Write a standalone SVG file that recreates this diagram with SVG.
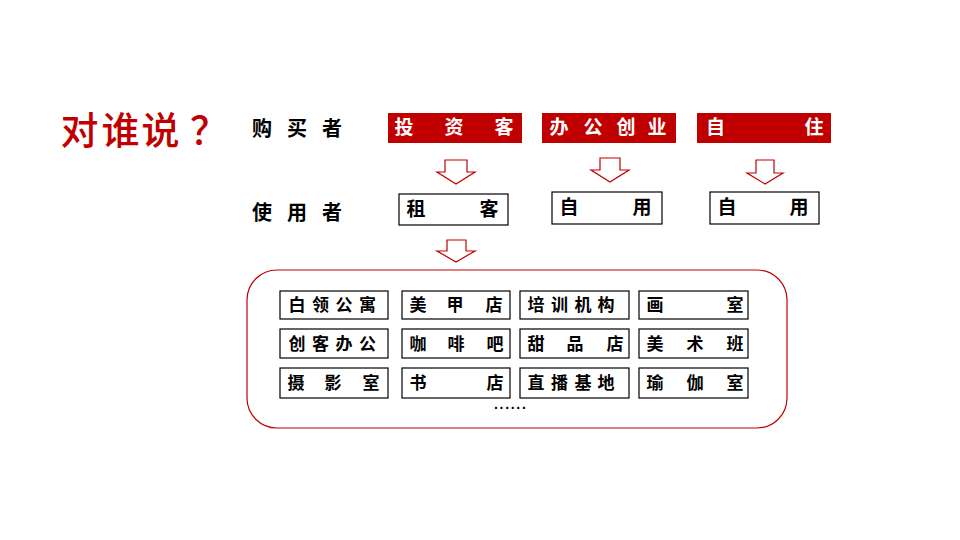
<svg xmlns="http://www.w3.org/2000/svg" width="960" height="540" viewBox="0 0 960 540">
<style>
.cjk{font-family:"Noto Sans CJK SC","Noto Sans",sans-serif}
.title{font-size:38px;fill:#C00000;font-weight:500}
.lbl{font-size:20px;font-weight:700;fill:#000}
.rbox{fill:#C00000}
.rtxt{font-size:19px;font-weight:700;fill:#fff}
.wbox{fill:#fff;stroke:#000;stroke-width:1.2}
.wtxt{font-size:19px;font-weight:700;fill:#000}
.ibox{fill:#fff;stroke:#000;stroke-width:1.2}
.itxt{font-size:17px;font-weight:700;fill:#000}
.arrow{fill:#fff;stroke:#C00000;stroke-width:1.2;stroke-linejoin:miter}
.frame{fill:none;stroke:#C00000;stroke-width:1.2}
</style>
<rect width="960" height="540" fill="#fff"/>
<g id="title"><text class="cjk title" x="60.5 101.5 141.5 190" y="144">对谁说？</text></g>
<g id="row-labels">
<text class="cjk lbl" x="252 287 322" y="136">购买者</text>
<text class="cjk lbl" x="252 287 322" y="220">使用者</text>
</g>
<g id="buyer-investor"><rect class="rbox" x="388" y="113" width="134" height="30"/><text class="cjk rtxt" x="394.5 444.5 494.5" y="134">投资客</text></g>
<g id="buyer-office"><rect class="rbox" x="542" y="113" width="134" height="30"/><text class="cjk rtxt" x="549.5 583.5 616.5 647.5" y="134">办公创业</text></g>
<g id="buyer-self"><rect class="rbox" x="697" y="113" width="134" height="30"/><text class="cjk rtxt" x="706 804.5" y="134">自住</text></g>
<g id="user-tenant"><rect class="wbox" x="399" y="194" width="109" height="31"/><text class="cjk wtxt" x="406.5 479.5" y="216">租客</text></g>
<g id="user-self1"><rect class="wbox" x="552" y="192" width="110" height="32"/><text class="cjk wtxt" x="559.5 632.5" y="214">自用</text></g>
<g id="user-self2"><rect class="wbox" x="710" y="192" width="109" height="32"/><text class="cjk wtxt" x="717.5 789.5" y="214">自用</text></g>
<g id="connectors">
<path class="arrow" d="M445,160 H467 V172 H475 L456,184 L437,172 H445 Z"/>
<path class="arrow" d="M600,158 H620 V170 H629 L610,182 L591,170 H600 Z"/>
<path class="arrow" d="M756,160 H774 V173 H783 L765,184 L747,173 H756 Z"/>
<path class="arrow" d="M447,240 H466 V251 H475 L456,262 L437,251 H447 Z"/>
</g>
<g id="uses-frame"><rect class="frame" x="247" y="270" width="540" height="158" rx="30" ry="30"/></g>
<g id="u-1"><rect class="ibox" x="280" y="291" width="108" height="28"/><text class="cjk itxt" x="288.5 312 335.5 359" y="311">白领公寓</text></g>
<g id="u-2"><rect class="ibox" x="402" y="291" width="108" height="28"/><text class="cjk itxt" x="409.5 446.5 485.5" y="311">美甲店</text></g>
<g id="u-3"><rect class="ibox" x="520" y="291" width="109" height="28"/><text class="cjk itxt" x="527.5 551 574.5 597.5" y="311">培训机构</text></g>
<g id="u-4"><rect class="ibox" x="639" y="291" width="109" height="28"/><text class="cjk itxt" x="646.5 726.5" y="311">画室</text></g>
<g id="u-5"><rect class="ibox" x="280" y="329" width="108" height="29"/><text class="cjk itxt" x="288.5 312 335.5 359" y="350">创客办公</text></g>
<g id="u-6"><rect class="ibox" x="402" y="329" width="108" height="29"/><text class="cjk itxt" x="409.5 447.5 486.5" y="350">咖啡吧</text></g>
<g id="u-7"><rect class="ibox" x="520" y="329" width="109" height="29"/><text class="cjk itxt" x="527.5 566.5 606.5" y="350">甜品店</text></g>
<g id="u-8"><rect class="ibox" x="639" y="329" width="109" height="29"/><text class="cjk itxt" x="646.5 686.5 726.5" y="350">美术班</text></g>
<g id="u-9"><rect class="ibox" x="280" y="368" width="108" height="30"/><text class="cjk itxt" x="287.5 324.5 362.5" y="389">摄影室</text></g>
<g id="u-10"><rect class="ibox" x="402" y="368" width="108" height="30"/><text class="cjk itxt" x="409.5 486.5" y="389">书店</text></g>
<g id="u-11"><rect class="ibox" x="520" y="368" width="109" height="30"/><text class="cjk itxt" x="527.5 551 574.5 597.5" y="389">直播基地</text></g>
<g id="u-12"><rect class="ibox" x="639" y="368" width="109" height="30"/><text class="cjk itxt" x="646.5 686.5 726.5" y="389">瑜伽室</text></g>
<g id="more"><text x="494" y="409" font-family="Liberation Sans, sans-serif" font-size="14" font-weight="700" letter-spacing="1.7" fill="#000">......</text></g>
</svg>
